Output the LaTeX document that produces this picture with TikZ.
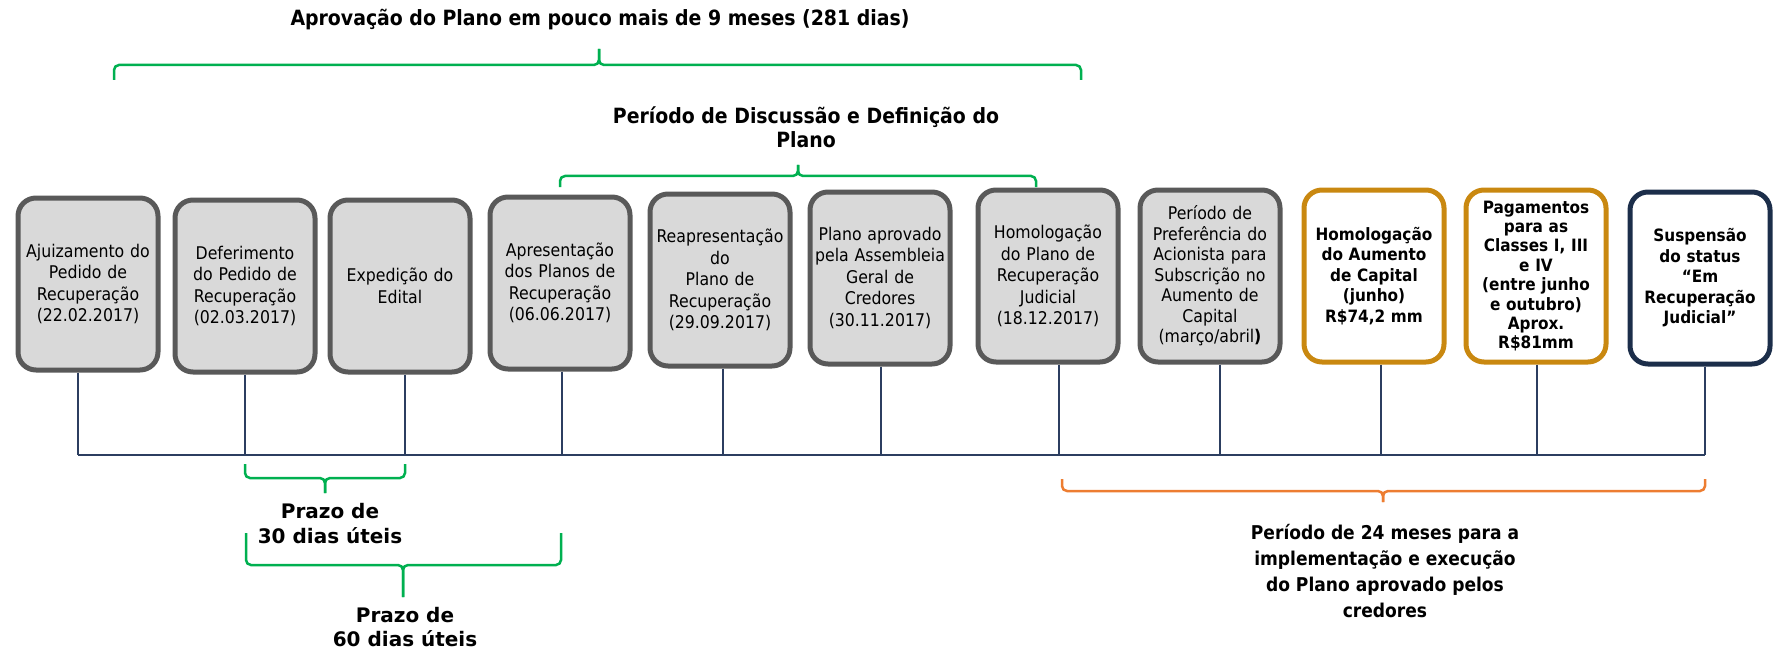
\documentclass[tikz,border=0pt]{standalone}
\usepackage{fontspec}
\setmainfont{DejaVu Sans Condensed}
\newfontfamily\largafont{DejaVu Sans}
\usepackage{tikz}
\usetikzlibrary{positioning}
\definecolor{cinzafundo}{RGB}{217,217,217}
\definecolor{cinzaborda}{RGB}{89,89,89}
\definecolor{ouro}{RGB}{201,136,16}
\definecolor{marinho}{RGB}{28,46,74}
\definecolor{linhatempo}{RGB}{44,62,96}
\definecolor{verde}{RGB}{0,176,80}
\definecolor{laranja}{RGB}{237,125,49}

\begin{document}
\begin{tikzpicture}[x=1pt,y=-1pt,
    etapa/.style={draw=cinzaborda,fill=cinzafundo,line width=5pt,rounded corners=18pt,
        minimum width=140pt,minimum height=172pt,text width=136pt,align=center,
        inner sep=0pt,font=\fontsize{17.5}{21.5}\selectfont},
    futura/.style={etapa,draw=ouro,fill=white,font=\bfseries\fontsize{17}{20.5}\selectfont},
    final/.style={futura,draw=marinho},
    chave/.style={line width=2.5pt,rounded corners=5pt},
    rotulo/.style={align=center,inner sep=0pt,font=\bfseries\fontsize{21}{24}\selectfont}]
    \useasboundingbox (0,0) rectangle (1781,650);
    % etapas
    \node[etapa] (aju) at (88,284) {Ajuizamento do\\Pedido de\\Recuperação\\(22.02.2017)};
    \node[etapa] (def) at (245,286) {Deferimento\\do Pedido de\\Recuperação\\(02.03.2017)};
    \node[etapa] (edi) at (400,286) {Expedição do\\Edital};
    \node[etapa] (apr) at (560,283) {Apresentação\\dos Planos de\\Recuperação\\(06.06.2017)};
    \node[etapa] (rea) at (720,280) {Reapresentação\\do\\Plano de\\Recuperação\\(29.09.2017)};
    \node[etapa] (agc) at (880,278) {Plano aprovado\\pela Assembleia\\Geral de\\Credores\\(30.11.2017)};
    \node[etapa] (hom) at (1048,276) {Homologação\\do Plano de\\Recuperação\\Judicial\\(18.12.2017)};
    \node[etapa,font=\fontsize{17.5}{20.5}\selectfont] (pref) at (1210,276) {Período de\\Preferência do\\Acionista para\\Subscrição no\\Aumento de\\Capital\\(março/abril\textbf{)}};
    \node[futura] (aum) at (1374,276) {Homologação\\do Aumento\\de Capital\\(junho)\\R\$74,2 mm};
    \node[futura,font=\bfseries\fontsize{17}{19.4}\selectfont] (pag) at (1536,276) {Pagamentos\\para as\\Classes I, III\\e IV\\(entre junho\\e outubro)\\Aprox.\\R\$81mm};
    \node[final] (sus) at (1700,278) {Suspensão\\do status\\“Em\\Recuperação\\Judicial”};
    % linha do tempo
    \coordinate (t1) at (78,455);
    \coordinate (t11) at (1705,455);
    \draw[linhatempo,line width=1.5pt] (t1) -- (t11);
    \foreach \x/\n in {78/aju,245/def,405/edi,562/apr,723/rea,881/agc,1059/hom,1220/pref,1381/aum,1537/pag,1705/sus}
        \draw[linhatempo,line width=1.5pt] (\n.south -| \x,0) -- (\x,455);
    % chaves
    \draw[chave,verde] (114,80) -- (114,65) -- (599,65) -- (599,49);
    \draw[chave,verde] (599,49) -- (599,65) -- (1081,65) -- (1081,80);
    \draw[chave,verde] (560,187) -- (560,176) -- (798,176) -- (798,165);
    \draw[chave,verde] (798,165) -- (798,176) -- (1036,176) -- (1036,187);
    \draw[chave,verde] (245,464) -- (245,478) -- (325,478) -- (325,493);
    \draw[chave,verde] (325,493) -- (325,478) -- (405,478) -- (405,464);
    \draw[chave,verde] (246,533) -- (246,565) -- (403,565) -- (403,597);
    \draw[chave,verde] (403,597) -- (403,565) -- (561,565) -- (561,533);
    \draw[chave,laranja] (1062,479) -- (1062,491) -- (1383,491) -- (1383,502);
    \draw[chave,laranja] (1383,502) -- (1383,491) -- (1705,491) -- (1705,479);
    % textos
    \node[rotulo] (titulo) at (600,20) {Aprovação do Plano em pouco mais de 9 meses (281 dias)};
    \node[rotulo] (discussao) at (806,127) {Período de Discussão e Definição do\\Plano};
    \node[rotulo,font=\largafont\bfseries\fontsize{20}{25}\selectfont] (prazo30) at (330,524) {Prazo de\\30 dias úteis};
    \node[rotulo,font=\largafont\bfseries\fontsize{20}{24}\selectfont] (prazo60) at (405,627) {Prazo de\\60 dias úteis};
    \node[rotulo,font=\bfseries\fontsize{19}{26}\selectfont] (implem) at (1385,571) {Período de 24 meses para a\\implementação e execução\\do Plano aprovado pelos\\credores};
\end{tikzpicture}
\end{document}
